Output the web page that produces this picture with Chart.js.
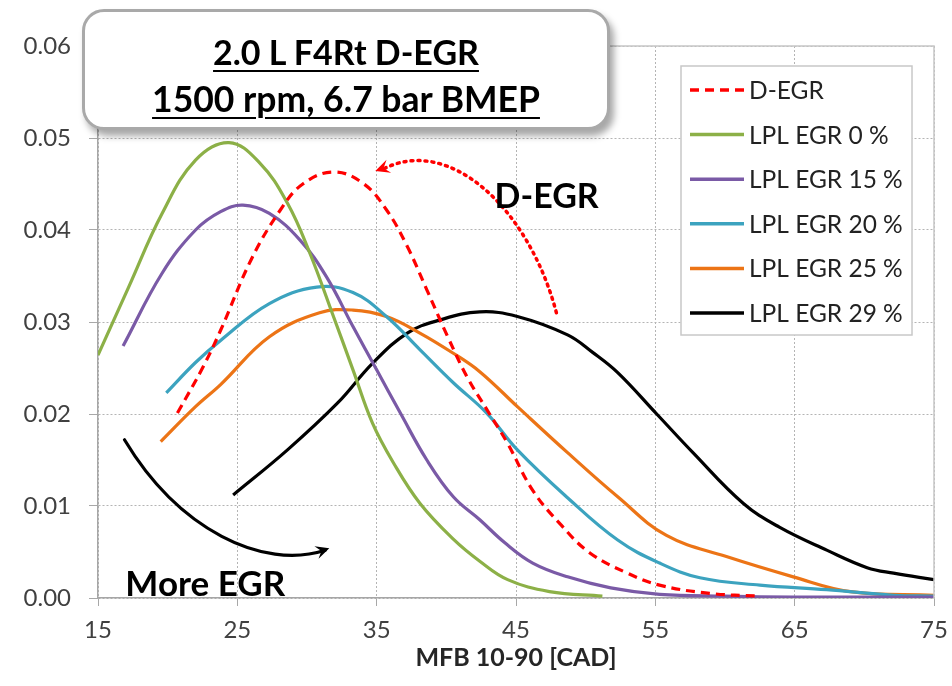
<!DOCTYPE html>
<html>
<head>
<meta charset="utf-8">
<script src="https://cdn.jsdelivr.net/npm/chart.js@4.4.1/dist/chart.umd.min.js"></script>
<style>
  body { margin: 0; background: #fff; }
  #wrap { position: relative; width: 952px; height: 686px; }
  #title_box {
    position: absolute; left: 82px; top: 9px; width: 528px; height: 121px;
    border: 3px solid #a9a9a9; border-radius: 22px; background: #fff;
    box-shadow: 4px 6px 7px rgba(0,0,0,0.35);
    font-family: Lato, sans-serif; font-weight: bold; font-size: 34px; color: #000;
    text-align: center; line-height: 47px; padding-top: 16px; box-sizing: border-box;
  }
  #title_box span { text-decoration: underline; text-decoration-thickness: 2px; text-underline-offset: 5px; }
  #title_box .l2 { font-size: 35.5px; }
</style>
</head>
<body>
<div id="wrap">
  <canvas id="line-chart_mfb" width="952" height="686"></canvas>
  <div id="title_box"><span>2.0 L F4Rt D-EGR</span><br><span class="l2">1500 rpm, 6.7 bar BMEP</span></div>
</div>
<script>
const x_ticks = [15, 25, 35, 45, 55, 65, 75];

const x_degr = [20.7, 22.5, 23.8, 26.0, 28.1, 29.7, 31.9, 34.0, 35.7, 37.2, 38.6, 40.1, 41.5, 42.9, 44.4, 46.2, 48.2, 50.3, 53.0, 55.3, 58.9, 62.5];
const y_degr = [0.0201, 0.0250, 0.0291, 0.0368, 0.0422, 0.0450, 0.0463, 0.0451, 0.0422, 0.0382, 0.0335, 0.0284, 0.0240, 0.0205, 0.0168, 0.0117, 0.0080, 0.0049, 0.0027, 0.0014, 0.0005, 0.0002];

const x_egr0 = [15, 17.2, 19.6, 22.0, 24.4, 26.6, 28.6, 30.2, 31.9, 33.3, 34.7, 36.2, 38.1, 40.5, 42.4, 44.4, 47.4, 51.2];
const y_egr0 = [0.0264, 0.0338, 0.0418, 0.0476, 0.0495, 0.0473, 0.0429, 0.0375, 0.0306, 0.0248, 0.0190, 0.0147, 0.0103, 0.0064, 0.0040, 0.0020, 0.0007, 0.0002];

const x_egr15 = [16.8, 19.6, 22.0, 23.8, 25.4, 27.3, 29.5, 31.4, 33.3, 35.0, 36.7, 38.6, 40.5, 42.4, 44.2, 46.2, 48.7, 51.8, 55.3, 60, 65, 70, 75];
const y_egr15 = [0.0274, 0.0353, 0.0400, 0.0420, 0.0427, 0.0418, 0.0389, 0.0349, 0.0295, 0.0248, 0.0201, 0.0150, 0.0110, 0.0085, 0.0060, 0.0038, 0.0023, 0.0011, 0.0004, 0.0002, 0.0001, 0.0001, 0.0001];

const x_egr20 = [19.9, 22.0, 23.8, 27.3, 30.7, 33.3, 35.7, 38.1, 40.5, 42.9, 45.1, 48.7, 52.3, 55.3, 58.2, 62.5, 67.3, 72.1, 75];
const y_egr20 = [0.0223, 0.0256, 0.0280, 0.0320, 0.0338, 0.0332, 0.0306, 0.0270, 0.0234, 0.0201, 0.0161, 0.0109, 0.0063, 0.0038, 0.0022, 0.0014, 0.0009, 0.0003, 0.0002];

const x_egr25 = [19.5, 22.0, 23.8, 27.3, 30.9, 33.3, 35.7, 38.1, 40.5, 42.4, 45.1, 48.7, 52.3, 55.8, 60.1, 64.9, 69.0, 75];
const y_egr25 = [0.0170, 0.0208, 0.0232, 0.0284, 0.0310, 0.0313, 0.0306, 0.0288, 0.0266, 0.0246, 0.0208, 0.0158, 0.0110, 0.0068, 0.0045, 0.0023, 0.0007, 0.0003];

const x_egr29 = [24.7, 28.6, 32.2, 34.7, 37.2, 39.5, 42.4, 45.1, 48.7, 50.5, 52.3, 55.1, 57.7, 61.3, 63.9, 67.3, 70.2, 72.1, 75];
const y_egr29 = [0.0112, 0.0161, 0.0212, 0.0255, 0.0288, 0.0302, 0.0311, 0.0306, 0.0286, 0.0267, 0.0245, 0.0200, 0.0158, 0.0103, 0.0077, 0.0052, 0.0033, 0.0027, 0.0020];

const series_labels = ["D-EGR", "LPL EGR 0 %", "LPL EGR 15 %", "LPL EGR 20 %", "LPL EGR 25 %", "LPL EGR 29 %"];
const series_colors = ["#ff0000", "#8cb047", "#7a5aa6", "#3ca3bf", "#ec7416", "#000000"];

function pts(xs, ys) {
    return xs.map((x, i) => ({ x: x, y: ys[i] }));
}

function mk(i, xs, ys) {
    return {
        label: series_labels[i],
        data: pts(xs, ys),
        borderColor: series_colors[i],
        backgroundColor: series_colors[i],
        borderWidth: 3.2,
        borderDash: i === 0 ? [9, 6] : [],
        pointRadius: 0,
        showLine: true,
        fill: false,
        tension: 0.4
    };
}

// arrow + text annotations in data units
function px(chart, x, y) {
    return [chart.scales.x.getPixelForValue(x), chart.scales.y.getPixelForValue(y)];
}

function arrowHead(ctx, x0, y0, x1, y1, color, size) {
    const a = Math.atan2(y1 - y0, x1 - x0);
    ctx.save();
    ctx.setLineDash([]);
    ctx.fillStyle = color;
    ctx.beginPath();
    ctx.moveTo(x1, y1);
    ctx.lineTo(x1 - size * Math.cos(a - 0.45), y1 - size * Math.sin(a - 0.45));
    ctx.lineTo(x1 - size * 0.55 * Math.cos(a), y1 - size * 0.55 * Math.sin(a));
    ctx.lineTo(x1 - size * Math.cos(a + 0.45), y1 - size * Math.sin(a + 0.45));
    ctx.closePath();
    ctx.fill();
    ctx.restore();
}

const extras = {
    id: 'extras',
    afterDraw(chart) {
        const ctx = chart.ctx;
        const ca = chart.chartArea;
        ctx.save();
        // solid frame top/right
        ctx.strokeStyle = '#c6c6c6';
        ctx.lineWidth = 1.5;
        ctx.beginPath();
        ctx.moveTo(ca.left, ca.top);
        ctx.lineTo(ca.right, ca.top);
        ctx.lineTo(ca.right, ca.bottom);
        ctx.stroke();

        // red dotted arrow
        let s = px(chart, 47.9, 0.0310), c1 = px(chart, 45.9, 0.0425), c2 = px(chart, 40.1, 0.0505), e = px(chart, 34.9, 0.0464);
        ctx.strokeStyle = '#ff0000';
        ctx.lineWidth = 3.5;
        ctx.setLineDash([2, 5]);
        ctx.lineCap = 'round';
        ctx.beginPath();
        ctx.moveTo(s[0], s[1]);
        ctx.bezierCurveTo(c1[0], c1[1], c2[0], c2[1], e[0] + 6, e[1] - 1);
        ctx.stroke();
        arrowHead(ctx, c2[0], c2[1] + 12, e[0], e[1], '#ff0000', 16);

        // black arrow
        s = px(chart, 16.9, 0.0172); c1 = px(chart, 20.8, 0.0074); c2 = px(chart, 26.8, 0.0030); e = px(chart, 31.6, 0.0054);
        ctx.strokeStyle = '#000';
        ctx.lineWidth = 3.2;
        ctx.setLineDash([]);
        ctx.beginPath();
        ctx.moveTo(s[0], s[1]);
        ctx.bezierCurveTo(c1[0], c1[1], c2[0], c2[1], e[0] - 4, e[1] + 2);
        ctx.stroke();
        arrowHead(ctx, c2[0], c2[1], e[0], e[1], '#000', 15);

        // text labels
        ctx.fillStyle = '#000';
        ctx.font = 'bold 34px Lato, sans-serif';
        ctx.textAlign = 'center';
        ctx.textBaseline = 'middle';
        let t = px(chart, 47.2, 0.0436);
        ctx.fillText('D-EGR', t[0], t[1]);
        ctx.font = 'bold 35px Lato, sans-serif';
        t = px(chart, 22.7, 0.0014);
        ctx.fillText('More EGR', t[0], t[1]);

        // legend
        const lx = 681, ly = 66, lw = 231, lh = 269;
        ctx.fillStyle = '#fff';
        ctx.fillRect(lx, ly, lw, lh);
        ctx.strokeStyle = '#c8c8c8';
        ctx.lineWidth = 1.5;
        ctx.strokeRect(lx, ly, lw, lh);
        ctx.font = '24.5px Lato, sans-serif';
        ctx.textAlign = 'left';
        ctx.lineCap = 'butt';
        chart.data.datasets.forEach((ds, i) => {
            const yy = 90 + i * 44.6;
            ctx.strokeStyle = ds.borderColor;
            ctx.lineWidth = 3.5;
            ctx.setLineDash(ds.borderDash);
            ctx.beginPath();
            ctx.moveTo(690, yy);
            ctx.lineTo(744, yy);
            ctx.stroke();
            ctx.setLineDash([]);
            ctx.fillStyle = '#222';
            ctx.fillText(ds.label, 749, yy + 1);
        });
        ctx.restore();
    }
};

new Chart(document.getElementById("line-chart_mfb"), {
    type: 'scatter',
    data: {
        datasets: [
            mk(0, x_degr, y_degr),
            mk(1, x_egr0, y_egr0),
            mk(2, x_egr15, y_egr15),
            mk(3, x_egr20, y_egr20),
            mk(4, x_egr25, y_egr25),
            mk(5, x_egr29, y_egr29)
        ]
    },
    options: {
        responsive: false,
        animation: false,
        layout: { padding: { left: 0, top: 46, right: 18, bottom: 0 } },
        plugins: { legend: { display: false }, tooltip: { enabled: false } },
        scales: {
            x: {
                type: 'linear',
                min: 15, max: 75,
                afterBuildTicks: (scale) => { scale.ticks = x_ticks.map(v => ({ value: v })); },
                afterFit: (scale) => { scale.height = 88; scale.paddingLeft = 0; scale.paddingRight = 0; },
                grid: { color: '#b4b4b4', tickLength: 8, tickColor: '#a8a8a8' },
                border: { display: true, color: '#a6a6a6', width: 1.5, dash: [2, 2] },
                ticks: { color: '#404040', font: { family: 'Lato', size: 24 }, padding: 10, maxRotation: 0 },
                title: { display: true, text: 'MFB 10-90 [CAD]', color: '#262626', font: { family: 'Lato', size: 25, weight: 'bold' }, padding: { top: 2, bottom: 13 } }
            },
            y: {
                min: 0, max: 0.06,
                afterFit: (scale) => { scale.width = 98; scale.paddingTop = 0; scale.paddingBottom = 0; },
                grid: { color: '#b4b4b4', tickLength: 9, tickColor: '#a8a8a8' },
                border: { display: true, color: '#a6a6a6', width: 1.5, dash: [2, 2] },
                ticks: { stepSize: 0.01, color: '#404040', font: { family: 'Lato', size: 24 }, padding: 18, callback: (v) => v.toFixed(2) }
            }
        }
    },
    plugins: [extras]
});
</script>
</body>
</html>
